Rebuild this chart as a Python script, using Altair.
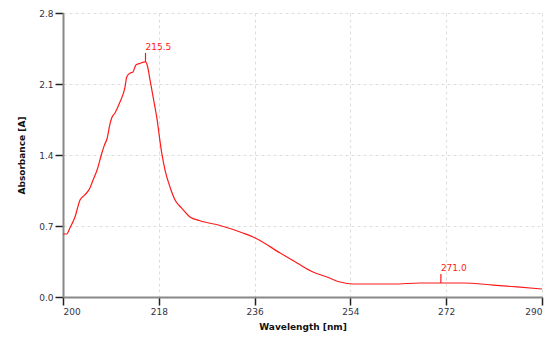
import altair as alt
import pandas as pd

wavelength = [200.0, 200.7, 201.3, 202.25, 203.2, 204.1, 205.07, 205.64, 206.4, 207.3,
              207.8, 208.27, 208.8, 209.15, 209.77, 210.7, 211.65, 211.97, 212.6, 213.1,
              213.7, 214.47, 215.5, 215.9, 216.35, 216.97, 217.6, 218.55, 219.17, 220.1,
              221.05, 222.3, 223.86, 225.74, 229.5, 233.8, 236.1, 240.8, 243.97, 246.97,
              249.6, 252.05, 254.5, 258.25, 262.0, 267.1, 270.8, 275.2, 280.8, 285.3, 290.0]
absorbance = [0.621, 0.621, 0.680, 0.789, 0.956, 1.006, 1.075, 1.153, 1.252, 1.420,
              1.500, 1.560, 1.700, 1.765, 1.814, 1.922, 2.070, 2.169, 2.208, 2.215,
              2.287, 2.304, 2.318, 2.270, 2.140, 1.960, 1.775, 1.420, 1.252, 1.084,
              0.956, 0.877, 0.789, 0.752, 0.705, 0.631, 0.582, 0.434, 0.335, 0.246,
              0.197, 0.148, 0.128, 0.128, 0.128, 0.138, 0.138, 0.138, 0.118, 0.099, 0.079]

peak_wl = [215.5, 271.0]
peak_abs = [2.318, 0.138]
peak_label = ["215.5", "271.0"]

x_ticks = [200, 218, 236, 254, 272, 290]
y_ticks = [0.0, 0.7, 1.4, 2.1, 2.8]

df = pd.DataFrame({"wl": wavelength, "A": absorbance})
pk = pd.DataFrame({"wl": peak_wl, "A": peak_abs, "label": peak_label})

RED = "#ff1a1a"

x_enc = alt.X("wl:Q", scale=alt.Scale(domain=[200, 290], nice=False, zero=False),
              axis=alt.Axis(values=x_ticks, title="Wavelength [nm]", format=".0f",
                            labelAlign={"expr": "datum.value == 200 ? 'left' : (datum.value == 290 ? 'right' : 'center')"}))
y_enc = alt.Y("A:Q", scale=alt.Scale(domain=[0, 2.8], nice=False),
              axis=alt.Axis(values=y_ticks, title="Absorbance [A]", format=".1f"))

line = alt.Chart(df).mark_line(color=RED, strokeWidth=1.2, interpolate="monotone").encode(x=x_enc, y=y_enc)

rule = alt.Chart(pk).mark_rule(color=RED, strokeWidth=1.2, y2Offset=-9).encode(
    x="wl:Q", y="A:Q", y2="A:Q")

text = alt.Chart(pk).mark_text(color=RED, align="left", baseline="bottom", dx=0, dy=-10,
                               font="DejaVu Sans", fontSize=9).encode(
    x="wl:Q", y="A:Q", text="label:N")

chart = alt.layer(line, rule, text).properties(
    width=479, height=284,
    autosize=alt.AutoSizeParams(type="none"),
    padding={"left": 55, "top": 5, "right": 2, "bottom": 40},
).configure_view(stroke=None).configure_axis(
    labelFont="DejaVu Sans", labelFontSize=9, labelColor="#333344",
    titleFont="DejaVu Sans", titleFontSize=9, titleFontWeight="bold", titleColor="#111111",
    domainColor="#888888", domainWidth=2,
    tickColor="#222222", tickWidth=1.5, tickSize=8,
    grid=True, gridColor="#dddddd", gridDash=[3, 3], gridWidth=1,
).configure_axisX(labelPadding=2, titlePadding=6).configure_axisY(labelPadding=2, titlePadding=12)

chart.save("out.html", embed_options={"renderer": "svg", "actions": False})
